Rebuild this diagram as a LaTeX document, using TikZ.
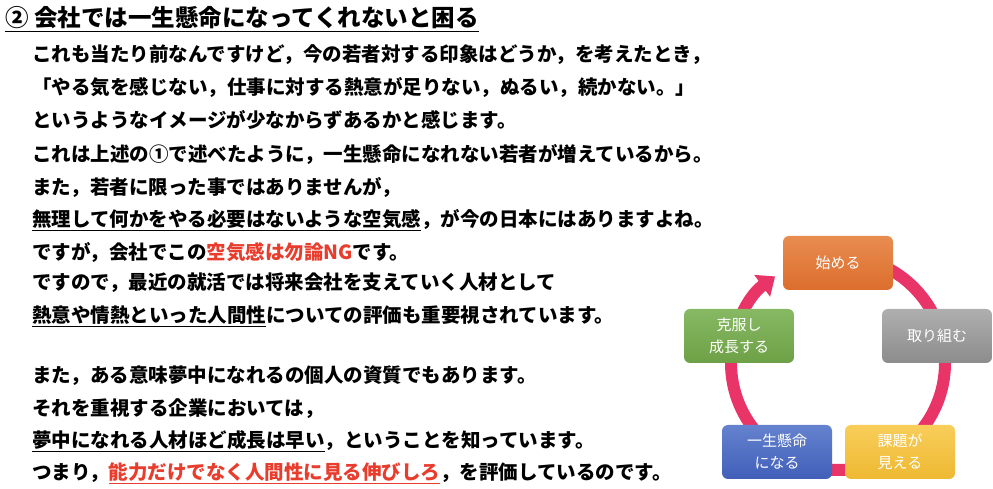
\documentclass[tikz,border=0pt]{standalone}
\usepackage{fontspec}
\setmainfont{Noto Sans CJK JP}
\usetikzlibrary{arrows.meta}
\begin{document}
\begin{tikzpicture}[x=1pt,y=1pt,
 ln/.style={anchor=base west,inner sep=0,font=\fontsize{19.5}{19.5}\selectfont\bfseries},
 bx/.style={rounded corners=6pt,minimum width=110pt,minimum height=54pt,text=white,font=\fontsize{15}{22}\selectfont,align=center},
 ring/.style={line width=12pt,draw={rgb,255:red,233;green,52;blue,104}}]
\useasboundingbox (0,0) rectangle (993,489);
\node[anchor=base west,inner sep=0,font=\fontsize{23.5}{23.5}\selectfont\bfseries] (t) at (5,489-27) {\underline{② 会社では一生懸命になってくれないと困る}};
\definecolor{rd}{RGB}{232,60,45}
\node[ln] (l1) at (32,489-62) {これも当たり前なんですけど，今の若者対する印象はどうか，を考えたとき，};
\node[ln] (l2) at (32,489-95) {「やる気を感じない，仕事に対する熱意が足りない，ぬるい，続かない。」};
\node[ln] (l3) at (32,489-128) {というようなイメージが少なからずあるかと感じます。};
\node[ln] (l4) at (32,489-162) {これは上述の①で述べたように，一生懸命になれない若者が増えているから。};
\node[ln] (l5) at (32,489-195) {また，若者に限った事ではありませんが，};
\node[ln] (l6) at (32,489-227) {\underline{無理して何かをやる必要はないような空気感}，が今の日本にはありますよね。};
\node[ln] (l7) at (32,489-260) {ですが，会社でこの\textcolor{rd}{空気感は勿論NG}です。};
\node[ln] (l8) at (32,489-290) {ですので，最近の就活では将来会社を支えていく人材として};
\node[ln] (l9) at (32,489-323) {\underline{熱意や情熱といった人間性}についての評価も重要視されています。};
\node[ln] (l10) at (32,489-383) {また，ある意味夢中になれるの個人の資質でもあります。};
\node[ln] (l11) at (32,489-416) {それを重視する企業においては，};
\node[ln] (l12) at (32,489-448) {\underline{夢中になれる人材ほど成長は早い}，ということを知っています。};
\node[ln] (l13) at (32,489-480) {つまり，\textcolor{rd}{\underline{能力だけでなく人間性に見る伸びしろ}}，を評価しているのです。};
\coordinate (c) at (838,126);
\draw[ring,-{Triangle[width=26pt,length=16pt]}] ([shift={(90:107)}]c) arc[start angle=90,end angle=-234,radius=107];
\node[bx,top color={rgb,255:red,232;green,140;blue,80},bottom color={rgb,255:red,220;green,110;blue,45}] (a) at (838,226) {始める};
\node[bx,top color={rgb,255:red,175;green,175;blue,175},bottom color={rgb,255:red,140;green,140;blue,140}] (b) at (937,153) {取り組む};
\node[bx,top color={rgb,255:red,248;green,205;blue,90},bottom color={rgb,255:red,238;green,185;blue,50}] (d) at (900,37) {課題が\\見える};
\node[bx,top color={rgb,255:red,100;green,130;blue,205},bottom color={rgb,255:red,65;green,95;blue,185}] (e) at (777,37) {一生懸命\\になる};
\node[bx,top color={rgb,255:red,135;green,185;blue,100},bottom color={rgb,255:red,110;green,160;blue,70}] (f) at (739,153) {克服し\\成長する};
\end{tikzpicture}
\end{document}
